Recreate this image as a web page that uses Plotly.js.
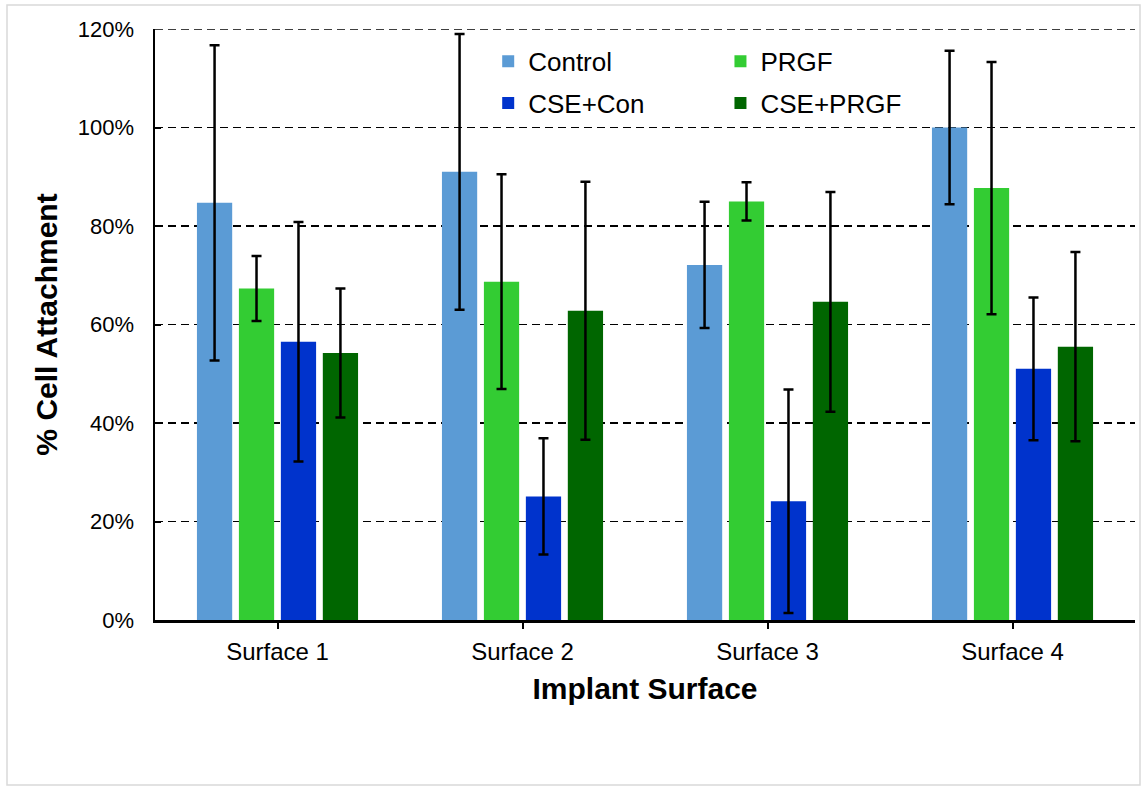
<!DOCTYPE html>
<html>
<head>
<meta charset="utf-8">
<script src="https://cdn.plot.ly/plotly-3.0.1.min.js"></script>
<style>html,body{margin:0;padding:0;background:#fff;}#chart{width:1144px;height:787px;}</style>
</head>
<body>
<div id="chart"></div>
<script>
// ---- data ----
const categories = ['Surface 1', 'Surface 2', 'Surface 3', 'Surface 4'];
const control     = [0.847, 0.910, 0.721, 1.000];
const controlErr  = [0.320, 0.280, 0.128, 0.156];
const prgf        = [0.673, 0.687, 0.850, 0.877];
const prgfErr     = [0.066, 0.218, 0.039, 0.256];
const cseCon      = [0.565, 0.251, 0.241, 0.510];
const cseConErr   = [0.243, 0.118, 0.227, 0.145];
const csePrgf     = [0.542, 0.628, 0.646, 0.555];
const csePrgfErr  = [0.131, 0.262, 0.223, 0.192];
const yTickVals   = [0, 0.2, 0.4, 0.6, 0.8, 1.0, 1.2];
const yTickText   = ['0%', '20%', '40%', '60%', '80%', '100%', '120%'];
const yMax        = 1.2;

const FONT = 'Liberation Sans, Arial, sans-serif';

function mk(name, y, err, color, legend) {
  return {
    type: 'bar', name: name, x: categories, y: y,
    marker: { color: color },
    error_y: { type: 'data', array: err, visible: true, color: '#000', thickness: 2.5, width: 5 },
    legend: legend, legendgroup: name,
    hoverinfo: 'skip'
  };
}

const traces = [
  mk('Control', control, controlErr, '#5B9BD5', 'legend'),
  mk('PRGF', prgf, prgfErr, '#33CC33', 'legend2'),
  mk('CSE+Con', cseCon, cseConErr, '#0033CC', 'legend'),
  mk('CSE+PRGF', csePrgf, csePrgfErr, '#006600', 'legend2')
];

const legendBase = {
  orientation: 'v', xanchor: 'left', yanchor: 'top', y: 0.985,
  bgcolor: 'rgba(0,0,0,0)', borderwidth: 0, tracegroupgap: 5,
  font: { family: FONT, size: 26, color: '#000' }
};

const layout = {
  width: 1144, height: 787,
  margin: { l: 155, r: 9, t: 29, b: 167, pad: 0 },
  paper_bgcolor: '#fff', plot_bgcolor: '#fff',
  font: { family: FONT, color: '#000' },
  barmode: 'group', bargap: 0.315, bargroupgap: 0.16,
  showlegend: true,
  legend: Object.assign({}, legendBase, { x: 0.34 }),
  legend2: Object.assign({}, legendBase, { x: 0.577 }),
  xaxis: {
    type: 'category',
    range: [-0.5, 3.5],
    showline: true, linecolor: '#000', linewidth: 2.5,
    ticks: 'outside', ticklen: 6, tickwidth: 2, tickcolor: '#000',
    tickfont: { family: FONT, size: 24, color: '#000' },
    ticklabelstandoff: 3,
    showgrid: false, zeroline: false,
    title: { text: 'Implant Surface', font: { family: FONT, size: 30, color: '#000', weight: 'bold' }, standoff: 14 },
    automargin: false
  },
  yaxis: {
    range: [0, yMax],
    tickvals: yTickVals, ticktext: yTickText,
    showline: true, linecolor: '#000', linewidth: 2.5,
    ticks: 'inside', ticklen: 6, tickwidth: 2, tickcolor: '#000',
    tickfont: { family: FONT, size: 22, color: '#000' },
    ticklabelstandoff: 14,
    showgrid: true, gridcolor: '#000', gridwidth: 1.4, griddash: '8px,5px',
    zeroline: false,
    title: { text: '% Cell Attachment', font: { family: FONT, size: 30, color: '#000', weight: 'bold' }, standoff: 12 },
    automargin: false
  },
  shapes: [
    {
      type: 'rect', xref: 'paper', yref: 'paper', layer: 'below',
      x0: (7 - 155) / 980, x1: (1140 - 155) / 980,
      y0: (620 - 785) / 591, y1: (620 - 5) / 591,
      line: { color: '#d9d9d9', width: 1.5 }, fillcolor: 'rgba(0,0,0,0)'
    },
    {
      // top gridline (Plotly skips grid lines on the plot edge)
      type: 'line', xref: 'paper', yref: 'y', layer: 'below',
      x0: 0, x1: 1, y0: yMax, y1: yMax,
      line: { color: '#000', width: 1.4, dash: '8px,5px' }
    }
  ]
};

Plotly.newPlot('chart', traces, layout, { displayModeBar: false, staticPlot: true });
</script>
</body>
</html>
